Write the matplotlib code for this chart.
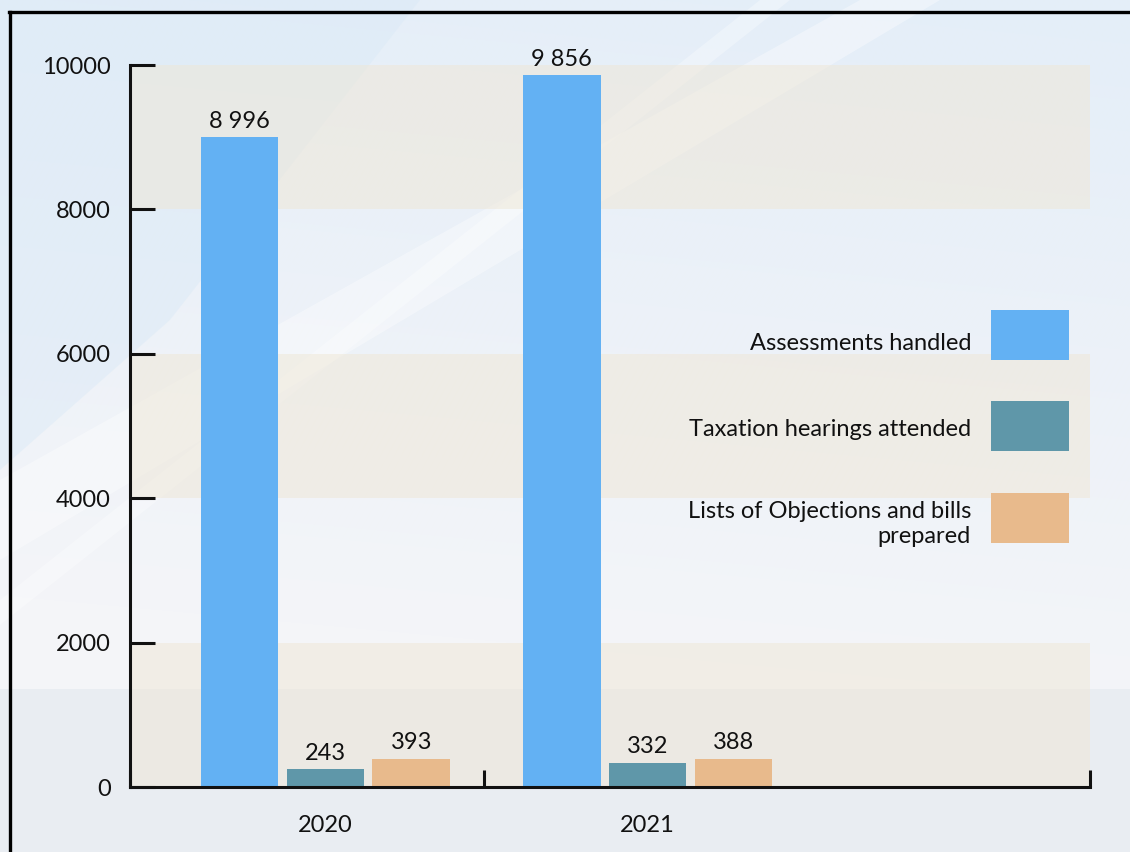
import matplotlib.pyplot as plt
import numpy as np
from matplotlib.lines import Line2D
from matplotlib.patches import Polygon, Rectangle

years = ["2020", "2021"]
series = [
    "Assessments handled",
    "Taxation hearings attended",
    "Lists of Objections and bills\nprepared",
]
assessments = [8996, 9856]
hearings = [243, 332]
objections = [393, 388]
values = [assessments, hearings, objections]
colors = ["#63b1f3", "#5f97a9", "#e8ba8c"]

y_ticks = [0, 2000, 4000, 6000, 8000, 10000]
bands = [(0, 2000), (4000, 6000), (8000, 10000)]

FS = 17
plt.rcParams.update({"font.family": ["Lato", "DejaVu Sans"], "font.size": FS})

W, H = 1130, 852
fig = plt.figure(figsize=(W / 100, H / 100), dpi=100)


def fx(px):
    return px / W


def fy(py):
    return 1 - py / H


# background: soft blue-to-grey gradient with a few diagonal light streaks
bg = fig.add_axes([0, 0, 1, 1], zorder=-10)
bg.set_axis_off()
bg.set_xlim(0, W)
bg.set_ylim(H, 0)
yy, xx = np.mgrid[0:H, 0:W]
t = np.clip(yy / 700 + 0.15 * (1 - xx / W), 0, 1)
top = np.array([228, 238, 248]) / 255
bot = np.array([244, 245, 248]) / 255
img = top[None, None, :] * (1 - t[..., None]) + bot[None, None, :] * t[..., None]
bg.imshow(img, extent=(0, W, H, 0), aspect="auto")
bg.add_patch(Polygon([(0, 0), (420, 0), (170, 320), (0, 470)], closed=True,
                     facecolor="#d9e9f6", alpha=0.45, lw=0))
bg.add_patch(Polygon([(0, 480), (860, 0), (940, 0), (0, 560)], closed=True,
                     facecolor="white", alpha=0.35, lw=0))
bg.add_patch(Polygon([(0, 600), (760, 0), (790, 0), (0, 625)], closed=True,
                     facecolor="white", alpha=0.3, lw=0))
bg.add_patch(Rectangle((0, 689), W, H - 689, facecolor="#e9edf2", lw=0))

# outer frame (top and left only)
fig.add_artist(Line2D([fx(9), 1], [fy(11.5), fy(11.5)], color="black", lw=2.4))
fig.add_artist(Line2D([fx(10), fx(10)], [fy(11.5), 0], color="black", lw=2.4))

ax = fig.add_axes([fx(130), fy(787), fx(1090) - fx(130), fy(65) - fy(787)])
ax.patch.set_alpha(0)
ax.set_xlim(0, 958 / 353)
ax.set_ylim(0, 10000)

for lo, hi in bands:
    ax.axhspan(lo, hi, color="#efe7d5", alpha=0.5, lw=0, zorder=0)

centers = np.array([0.5524, 1.4632])
step = 0.2425
width = 0.219
for i, (vals, col) in enumerate(zip(values, colors)):
    xs = centers + (i - 1) * step
    ax.bar(xs, vals, width=width, color=col, zorder=2)
    for x, v in zip(xs, vals):
        ax.text(x, v + 80, f"{v:,}".replace(",", " "), ha="center", va="bottom",
                fontsize=FS, color="#111111", zorder=3)

for s in ["top", "right"]:
    ax.spines[s].set_visible(False)
for s in ["left", "bottom"]:
    ax.spines[s].set_linewidth(2.2)
    ax.spines[s].set_color("#111111")

ax.set_yticks(y_ticks)
ax.set_yticklabels([str(v) for v in y_ticks])
ax.tick_params(axis="y", direction="in", length=18, width=2.2, pad=14,
               labelsize=FS, colors="#111111")

ax.set_xticks([0, 1.0, 958 / 353])
ax.set_xticklabels([])
ax.tick_params(axis="x", direction="in", length=12, width=2.2, colors="#111111")
for x, lab in zip(centers, years):
    ax.text(x, -0.053, lab, transform=ax.get_xaxis_transform(), ha="center",
            va="center", fontsize=FS, color="#111111")

# legend: swatch on the right, text right-aligned to its left
leg_y = [335, 426, 518]
text_y = [343, 429, 524]
for lab, col, yc, ty in zip(series, colors, leg_y, text_y):
    fig.add_artist(Rectangle((fx(991), fy(yc + 25)), fx(78), 50 / H,
                             facecolor=col, lw=0))
    fig.text(fx(971), fy(ty), lab, ha="right", va="center", fontsize=FS,
             color="#111111", linespacing=1.25)

fig.savefig("out.png", dpi=100)
